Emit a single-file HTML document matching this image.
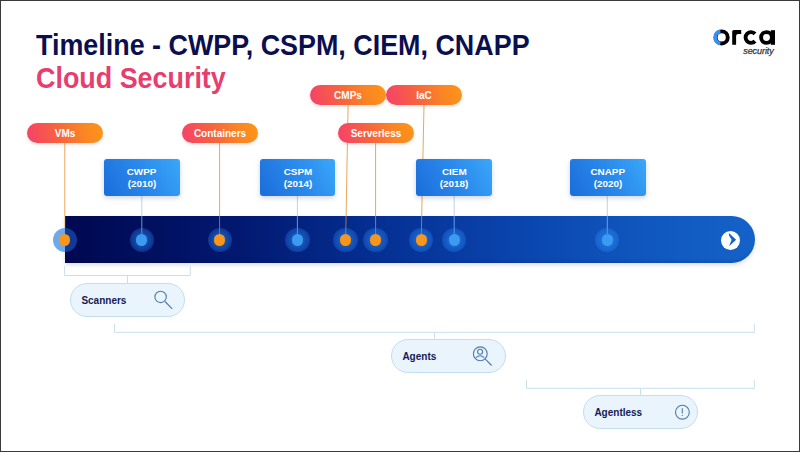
<!DOCTYPE html>
<html><head><meta charset="utf-8">
<style>
*{margin:0;padding:0;box-sizing:border-box}
html,body{width:800px;height:452px;overflow:hidden;background:#fff}
body{position:relative;font-family:"Liberation Sans",sans-serif}
#frame{position:absolute;left:0;top:0;width:800px;height:452px;border:1px solid #3a3a3a;z-index:50}
.t{position:absolute;left:36px;font-weight:bold;font-size:26.9px;transform:scaleY(1.07);transform-origin:0 0;white-space:nowrap;line-height:32px}
.t1{top:28.3px;color:#0c0f4e}
.t2{top:61.2px;color:#e63f6f}
.op{position:absolute;width:76px;height:20.4px;border-radius:10.2px;background:linear-gradient(75deg,#f5406b 0%,#f7623f 40%,#fa8424 72%,#fd9618 100%);color:#fff;font-weight:bold;font-size:10px;line-height:21.4px;text-align:center;box-shadow:0 1.5px 3px rgba(150,100,60,0.22);z-index:5}
.bb{position:absolute;width:75.5px;height:37.5px;border-radius:3px;background:linear-gradient(60deg,#1b6dda 0%,#2a8aec 55%,#3aa7f9 100%);color:#fff;font-weight:bold;font-size:9px;line-height:12.2px;text-align:center;padding-top:7.3px;box-shadow:0 2px 5px rgba(40,60,100,0.22);z-index:5}
.bb span{display:inline-block;transform:scaleX(1.1)}
.bar{position:absolute;left:64.8px;top:216px;width:690.2px;height:47.3px;border-radius:0 23.6px 23.6px 0;background:linear-gradient(90deg,#000850 0%,#021870 25%,#052f92 45%,#0a44ad 65%,#1058bf 85%,#1462c9 100%);box-shadow:inset 0 -4px 3px -2px rgba(0,0,40,0.12),0 2px 4px rgba(60,60,90,0.18)}
.dot{position:absolute;width:24.4px;height:24.4px;border-radius:50%;background:radial-gradient(circle closest-side,rgba(45,145,255,0.48) 45%,rgba(45,145,255,0.34) 80%,rgba(45,145,255,0.26) 100%);z-index:6}
.dot i{position:absolute;left:6.5px;top:6.5px;width:11.4px;height:11.4px;border-radius:50%}
.o i{background:#f8961c}
.b i{background:#3a9bf1}
.wp{position:absolute;width:115px;height:33.4px;border-radius:17px;background:#e9f4fc;border:1px solid #c4def0;color:#181a54;font-weight:bold;font-size:10px;line-height:33.5px;padding-left:10.4px;z-index:3}
svg{position:absolute;left:0;top:0}
</style></head>
<body>
<div id="frame"></div>
<div class="t t1">Timeline - CWPP, CSPM, CIEM, CNAPP</div>
<div class="t t2">Cloud Security</div>
<svg width="800" height="452" style="z-index:4">
 <g stroke="#eca65a" stroke-width="1">
  <line x1="64.8" y1="142" x2="64.8" y2="216"/>
  <line x1="219.6" y1="142" x2="219.6" y2="216"/>
  <line x1="348.1" y1="105" x2="346.1" y2="216"/>
  <line x1="375.6" y1="142" x2="375.6" y2="216"/>
  <line x1="424" y1="105" x2="421.7" y2="216"/>
 </g>
 <g stroke="#f0a850" stroke-width="1" opacity="0.6">
  <line x1="64.8" y1="216" x2="64.8" y2="240"/>
  <line x1="219.6" y1="216" x2="219.6" y2="240"/>
  <line x1="346.1" y1="216" x2="345.6" y2="240"/>
  <line x1="375.6" y1="216" x2="375.6" y2="240"/>
  <line x1="421.7" y1="216" x2="421.2" y2="240"/>
 </g>
 <g stroke="#bcd4ea" stroke-width="1">
  <line x1="141.8" y1="195" x2="141.8" y2="216"/>
  <line x1="297.4" y1="195" x2="297.4" y2="216"/>
  <line x1="454.2" y1="195" x2="454.2" y2="216"/>
  <line x1="607.3" y1="195" x2="607.3" y2="216"/>
 </g>
 <g stroke="#7fb6ee" stroke-width="1" opacity="0.8">
  <line x1="141.8" y1="216" x2="141.8" y2="240"/>
  <line x1="297.4" y1="216" x2="297.4" y2="240"/>
  <line x1="454.2" y1="216" x2="454.2" y2="240"/>
  <line x1="607.3" y1="216" x2="607.3" y2="240"/>
 </g>
 <g stroke="#c8dfec" stroke-width="1" fill="none">
  <polyline points="64.6,266 64.6,275.5 190.3,275.5 190.3,266"/>
  <line x1="127.5" y1="275.5" x2="127.5" y2="283.5"/>
  <polyline points="114.5,323.8 114.5,332.3 754.3,332.3 754.3,323.8"/>
  <line x1="434.6" y1="332.3" x2="434.6" y2="339.5"/>
  <polyline points="526.5,380 526.5,388.3 754.3,388.3 754.3,380"/>
  <line x1="640.5" y1="388.3" x2="640.5" y2="395.5"/>
 </g>
</svg>
<div class="op" style="left:27px;top:122.6px">VMs</div>
<div class="op" style="left:182px;top:122.6px">Containers</div>
<div class="op" style="left:310px;top:84.9px">CMPs</div>
<div class="op" style="left:338px;top:122.6px">Serverless</div>
<div class="op" style="left:386px;top:84.9px">IaC</div>
<div class="bb" style="left:104px;top:158.5px"><span>CWPP</span><br><span>(2010)</span></div>
<div class="bb" style="left:259.8px;top:158.5px"><span>CSPM</span><br><span>(2014)</span></div>
<div class="bb" style="left:416.2px;top:158.5px"><span>CIEM</span><br><span>(2018)</span></div>
<div class="bb" style="left:570px;top:158.5px"><span>CNAPP</span><br><span>(2020)</span></div>
<div class="bar"></div>
<div class="dot o" style="left:52.60px;top:227.80px;background:linear-gradient(90deg,#6ea9ea 50%,#103a98 50%)"><i></i></div>
<div class="dot b" style="left:129.60px;top:227.80px"><i></i></div>
<div class="dot o" style="left:207.60px;top:227.80px"><i></i></div>
<div class="dot b" style="left:285.30px;top:227.80px"><i></i></div>
<div class="dot o" style="left:333.40px;top:227.80px"><i></i></div>
<div class="dot o" style="left:363.40px;top:227.80px"><i></i></div>
<div class="dot o" style="left:409.00px;top:227.80px"><i></i></div>
<div class="dot b" style="left:442.00px;top:227.80px"><i></i></div>
<div class="dot b" style="left:595.10px;top:227.80px"><i></i></div>
<div style="position:absolute;left:721.3px;top:230.5px;width:19px;height:19px;border-radius:50%;background:#fff;z-index:6"></div>
<div class="wp" style="left:70px;top:283.2px">Scanners</div>
<div class="wp" style="left:391px;top:339.3px">Agents</div>
<div class="wp" style="left:583px;top:395.2px">Agentless</div>
<svg width="800" height="452" style="z-index:7">
 <g fill="none" stroke-width="3.9">
  <circle cx="721.7" cy="37.4" r="6.05" stroke="#000"/>
  <path d="M720.4 31.4 A6.05 6.05 0 0 0 720.4 43.4" stroke="#3b8ef2"/>
  <path d="M755 33.9 A5.4 5.4 0 1 0 755 41.1" stroke="#000"/>
  <circle cx="766.5" cy="37.5" r="5.4" stroke="#000"/>
 </g>
 <path d="M732.2 44.8 V31.6 Q732.2 30.1 733.8 30.1 H741.2 V34 H738.2 Q736.1 34 736.1 36.1 V44.8 Z" fill="#000"/>
 <rect x="770.8" y="30.2" width="4.2" height="14.6" fill="#000"/>
 <text x="743.2" y="53.6" font-family="Liberation Sans" font-style="italic" font-size="9" fill="#333" stroke="#333" stroke-width="0.25" textLength="30.6">security</text>
 <path d="M728.9 233.1 L736.1 239.7 L729.1 246.2 L731.6 239.7 L728.9 235.3 Z" fill="#1760c8"/>
 <g fill="none" stroke="#4c79ab" stroke-width="1.1">
  <circle cx="160.6" cy="296.9" r="5.7"/>
  <path d="M165 301.5 L172.2 308.9"/>
  <circle cx="480.3" cy="353.8" r="6.9"/>
  <circle cx="480.1" cy="351.8" r="2.5"/>
  <path d="M476 357.6 Q480 354 484.3 357.6"/>
  <path d="M485.3 359.2 L491.6 365.5"/>
  <circle cx="682.4" cy="412.2" r="6.9"/>
  <path d="M682.3 408.2 V413.6 M682.3 415 V416"/>
 </g>
</svg>
</body></html>
